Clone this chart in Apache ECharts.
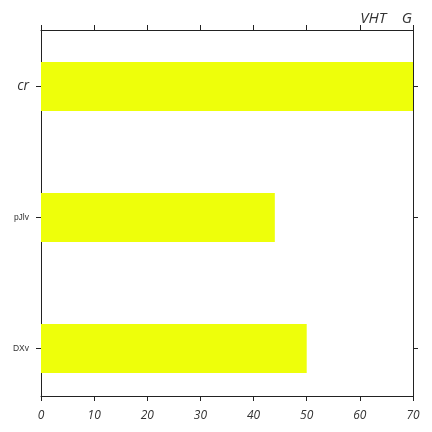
<!DOCTYPE html>
<html>
<head>
<meta charset="utf-8">
<script src="https://cdn.jsdelivr.net/npm/echarts@6/dist/echarts.min.js"></script>
<style>
  html, body { margin: 0; padding: 0; background: #fff; }
  #main { width: 432px; height: 432px; }
</style>
</head>
<body>
<div id="main"></div>
<script>
// categories, bottom to top
var categories = ['DXv', 'pJlv', 'cr']
var values = [50, 44, 70]
var xTicks = [0, 10, 20, 30, 40, 50, 60, 70]
var titleText = 'VHT    G'

var chart = echarts.init(document.getElementById('main'))

// per label style: cr is italic and bigger
var labelStyles = {
  cr: { fontSize: 14, fontStyle: 'italic', color: '#333', fontFamily: 'Open Sans' },
  pJlv: { fontSize: 8.5, color: '#333', fontFamily: 'Liberation Sans' },
  DXv: { fontSize: 8.5, color: '#333', fontFamily: 'Liberation Sans' }
}

var lineStyle = { color: '#222', width: 1 }
var xMin = xTicks[0]
var xMax = xTicks[xTicks.length - 1]

// grid 0 holds the bars (category bands are a bit taller than the frame),
// grid 1 is the visible frame with the value ticks
var option = {
  animation: false,
  title: {
    text: titleText,
    right: 15,
    top: 6,
    textStyle: { fontSize: 15, fontStyle: 'italic', fontWeight: 'normal', color: '#333', fontFamily: 'Open Sans' }
  },
  grid: [
    { left: 41, right: 19, top: 21, bottom: 18 },
    { left: 41, right: 19, top: 30, bottom: 36 }
  ],
  xAxis: [{
    gridIndex: 0,
    type: 'value',
    min: xMin,
    max: xMax,
    show: false
  }, {
    gridIndex: 1,
    type: 'value',
    min: xMin,
    max: xMax,
    interval: 10,
    axisLine: { show: true, onZero: false, lineStyle: lineStyle },
    axisTick: { show: true, length: 5, lineStyle: lineStyle },
    axisLabel: { fontSize: 12, fontStyle: 'italic', color: '#333', fontFamily: 'Open Sans', margin: 14 },
    splitLine: { show: false }
  }, {
    gridIndex: 1,
    type: 'value',
    position: 'top',
    min: xMin,
    max: xMax,
    interval: 10,
    axisLine: { show: true, onZero: false, lineStyle: lineStyle },
    axisTick: { show: true, length: 5, lineStyle: lineStyle },
    axisLabel: { show: false },
    splitLine: { show: false }
  }],
  yAxis: [{
    gridIndex: 0,
    type: 'category',
    data: categories.map(function (c) {
      return { value: c, textStyle: labelStyles[c] }
    }),
    axisLine: { show: false, onZero: false },
    axisTick: { show: true, length: 5, alignWithLabel: true, lineStyle: lineStyle },
    axisLabel: { margin: 12 }
  }, {
    gridIndex: 0,
    type: 'category',
    position: 'right',
    data: categories,
    axisLine: { show: false, onZero: false },
    axisTick: { show: true, length: 5, alignWithLabel: true, lineStyle: lineStyle },
    axisLabel: { show: false }
  }, {
    gridIndex: 1,
    type: 'value',
    min: 0,
    max: 1,
    axisLine: { show: true, onZero: false, lineStyle: lineStyle },
    axisTick: { show: false },
    axisLabel: { show: false },
    splitLine: { show: false }
  }, {
    gridIndex: 1,
    type: 'value',
    position: 'right',
    min: 0,
    max: 1,
    axisLine: { show: true, onZero: false, lineStyle: lineStyle },
    axisTick: { show: false },
    axisLabel: { show: false },
    splitLine: { show: false }
  }],
  series: [{
    type: 'bar',
    xAxisIndex: 0,
    yAxisIndex: 0,
    data: values,
    barWidth: '37.5%',
    itemStyle: { color: '#eeff0a' }
  }]
}

chart.setOption(option)
</script>
</body>
</html>
